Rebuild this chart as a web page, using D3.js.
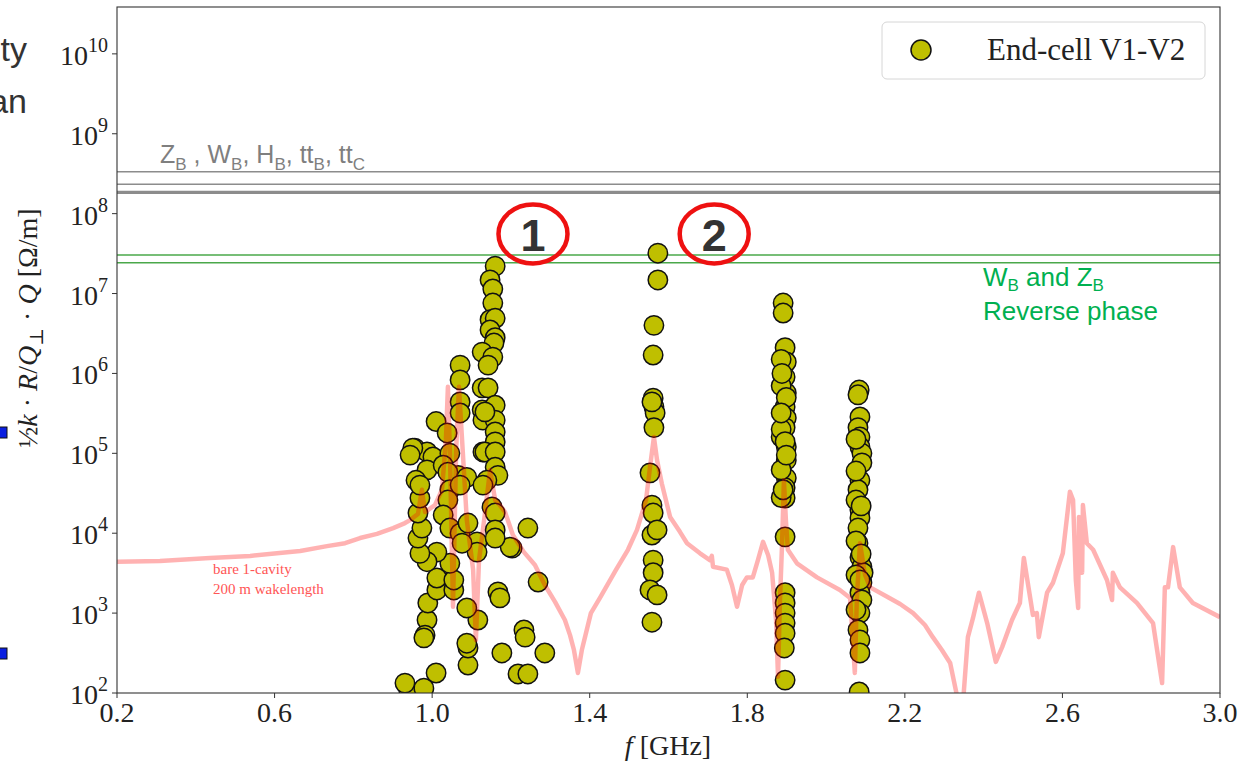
<!DOCTYPE html>
<html>
<head>
<meta charset="utf-8">
<script src="https://cdn.jsdelivr.net/npm/d3@7"></script>
<style>
  body { margin: 0; background: #fff; }
  svg { display: block; }
</style>
</head>
<body>
<div id="chart"></div>
<script>
// end-cell V1-V2 impedance points, grouped by mode band [f GHz, value Ohm/m]
const band1 = [
  [1.160,2.2e7],[1.147,1.48e7],[1.154,1.14e7],[1.154,7.6e6],[1.147,4.7e6],[1.160,4.9e6],[1.147,3.5e6],[1.160,2.8e6],
  [1.157,2.4e6],[1.127,1.85e6],[1.154,1.6e6],[1.142,1.27e6],[1.071,1.27e6],[1.071,8.3e5],[1.071,4.4e5],[1.071,3.2e5],
  [1.127,6.6e5],[1.142,6.6e5],[1.127,3.5e5],[1.129,2.6e5],[1.160,4.0e5],[1.160,2.6e5],[1.160,1.85e5],[1.160,1.39e5],
  [1.129,1.04e5],[1.010,2.5e5],[1.038,1.8e5],[0.956,1.16e5],[0.987,1.04e5],[1.002,9.0e4],[1.045,1.0e5],[0.987,6.2e4],
  [0.959,4.6e4],[1.028,7.1e4],[1.066,5.3e4],[1.088,5.0e4],[0.951,1.16e5],[0.944,9.5e4],[0.941,108],
  [0.931,133],[0.979,115],[1.010,178],[1.091,224],[1.091,366],[1.088,420],[1.177,317],[1.218,173],[1.243,173],
  [1.286,317],[1.233,615],[1.236,500],[1.167,1.84e3],[1.172,1.55e3],[1.269,2.45e3],[1.243,1.16e4],[1.203,6.5e3],
  [1.116,820],[1.088,1.16e3],[0.987,820],[0.982,530],[0.979,490],[0.989,1.34e3],[1.012,1.95e3],[1.012,2.75e3],
  [1.055,1.95e3],[1.055,2.6e3],[1.045,4.2e3],[1.012,5.8e3],[0.987,4.4e3],[0.969,5.6e3],[0.964,8.7e3],[0.974,1.16e4],
  [0.964,1.79e4],[0.969,2.76e4],[0.969,4.0e4],[1.040,5.8e4],[1.045,3.5e4],[1.071,4.0e4],[1.040,2.6e4],[1.028,1.69e4],
  [1.045,1.16e4],[1.071,1.0e4],[1.091,1.34e4],[1.114,7.8e3],[1.114,5.8e3],[1.076,7.5e3],[1.134,3.3e5],[1.134,1.04e5],
  [1.160,1.04e5],[1.160,6.7e4],[1.167,5.3e4],[1.139,4.6e4],[1.129,4.0e4],[1.152,2.13e4],[1.160,1.79e4],[1.160,1.1e4],
  [1.198,6.7e3],[1.160,8.7e3]
];
const band2 = [
  [1.573,3.2e7],[1.573,1.48e7],[1.563,4.0e6],[1.561,1.7e6],[1.561,4.9e5],[1.563,3.8e5],[1.566,3.2e5],[1.563,2.1e5],
  [1.558,4.4e5],[1.553,5.7e4],[1.558,2.25e4],[1.561,1.79e4],[1.558,9.5e3],[1.571,1.1e4],[1.561,4.6e3],[1.561,3.2e3],
  [1.553,1.95e3],[1.571,1.69e3],[1.558,770]
];
const band3 = [
  [1.891,7.6e6],[1.891,5.7e6],[1.896,2.1e6],[1.899,1.39e6],[1.896,9.0e5],[1.899,5.7e5],[1.896,3.8e5],[1.899,2.77e5],
  [1.896,2.1e5],[1.899,1.2e5],[1.899,8.2e4],[1.899,4.9e4],[1.896,3.7e4],[1.896,2.76e4],[1.896,9.0e3],[1.896,1.8e3],
  [1.896,1.34e3],[1.896,1.0e3],[1.896,750],[1.896,560],[1.894,366],[1.896,145],[1.886,7e5],[1.886,1.6e5],[1.886,6.2e4],
  [1.886,2.8e4],[1.886,2.0e5],[1.886,1.5e6],[1.899,5.0e5],[1.896,1.4e5],[1.899,9.5e4],[1.891,3.5e4],[1.888,1.0e6],[1.886,3.2e5]
];
const band4 = [
  [2.084,6.2e5],[2.081,5.4e5],[2.086,2.85e5],[2.081,2.1e5],[2.086,1.6e5],[2.086,1.2e5],[2.091,1.0e5],[2.091,7.6e4],
  [2.086,4.6e4],[2.081,3.5e4],[2.086,1.95e4],[2.086,1.55e4],[2.081,1.16e4],[2.081,7.5e3],[2.086,5.0e3],[2.091,3.8e3],
  [2.094,3.2e3],[2.091,2.4e3],[2.086,1.8e3],[2.091,1.46e3],[2.086,1.0e3],[2.081,615],[2.086,460],[2.086,317],[2.084,103],
  [2.076,2.6e4],[2.076,8e3],[2.076,3e3],[2.076,1.1e3],[2.076,1.5e5],[2.076,6e4],[2.089,2.2e4],[2.089,5.5e3],[2.086,2.6e3]
];

// bare 1-cavity, 200 m wakelength
const bareCavity = [
  [0.2,4.4e3],[0.309,4.5e3],[0.436,4.9e3],[0.538,5.2e3],[0.606,5.6e3],[0.665,6.0e3],[0.733,6.9e3],[0.779,7.5e3],
  [0.817,8.7e3],[0.860,9.8e3],[0.901,1.16e4],[0.931,1.34e4],[0.944,1.46e4],[0.964,1.74e4],
  [0.974,3.5e4],[0.982,1.84e4],[1.007,2.25e4],[1.025,3.5e4],[1.035,1.47e5],[1.040,6.8e5],[1.045,1.1e5],[1.053,1.2e3],
  [1.061,1.1e5],[1.068,6.8e5],[1.076,1.47e5],[1.088,1.46e4],[1.104,3.5e3],[1.111,460],[1.119,4.6e3],[1.132,1.46e4],
  [1.147,6.2e4],[1.160,2.6e4],[1.172,2.25e4],[1.185,1.84e4],[1.205,9.5e3],[1.233,5.8e3],[1.261,4.0e3],[1.286,2.25e3],
  [1.312,1.38e3],[1.337,820],[1.350,530],
  [1.360,345],[1.370,178],[1.380,345],[1.403,1.0e3],[1.426,1.55e3],[1.467,3.5e3],[1.497,6.2e3],[1.520,1.1e4],
  [1.543,2.6e4],[1.553,6.7e4],
  [1.563,1.6e5],[1.571,8.2e4],[1.583,4.2e4],[1.604,1.6e4],[1.629,1.04e4],[1.647,7.5e3],[1.680,5.6e3],[1.705,4.6e3],
  [1.710,5.2e3],[1.713,3.8e3],
  [1.748,3.5e3],[1.761,2.25e3],[1.774,1.2e3],[1.787,2.25e3],[1.799,2.8e3],[1.814,2.8e3],[1.827,4.6e3],[1.840,7.8e3],
  [1.853,5.3e3],[1.863,3.2e3],[1.873,820],[1.878,160],[1.883,1.46e3],[1.888,6.7e3],[1.893,4.6e4],[1.898,1.46e4],
  [1.903,6.2e3],[1.926,4.2e3],[1.977,2.8e3],[2.035,1.95e3],[2.061,1.55e3],[2.073,178],[2.078,1.46e3],[2.086,7.5e3],
  [2.099,3.0e3],[2.112,2.1e3],[2.155,1.6e3],[2.188,1.3e3],[2.221,1.0e3],[2.251,710],[2.271,500],[2.294,345],
  [2.315,237],[2.335,80],[2.348,80],[2.360,500],
  [2.373,870],[2.388,1.8e3],[2.409,750],[2.431,245],[2.447,375],[2.472,820],[2.492,1.34e3],[2.502,4.9e3],[2.525,950],
  [2.535,1.0e3],[2.540,500],[2.561,1.8e3],[2.576,2.4e3],[2.601,5.6e3],[2.619,3.3e4],[2.627,2.6e4],[2.634,2.6e3],
  [2.640,1.16e3],[2.642,1.6e4],[2.650,3.2e3],[2.652,2.25e4],[2.662,7.5e3],[2.678,6.2e3],[2.713,2.6e3],[2.726,1.46e3],
  [2.728,3.2e3],[2.746,2.1e3],[2.789,1.34e3],[2.830,750],[2.853,133],[2.860,2.1e3],[2.868,2.1e3],[2.881,6.7e3],
  [2.898,2.1e3],[2.931,1.34e3],[3.0,890]
];

const grayLimits = [3.35e8, 2.33e8, 1.9e8, 1.85e8, 1.8e8];   // Z_B, W_B, H_B, tt_B, tt_C
const greenLimits = [3.03e7, 2.43e7];                        // W_B and Z_B reverse phase
const xTicks = [0.2, 0.6, 1.0, 1.4, 1.8, 2.2, 2.6, 3.0];
const yExps = [2, 3, 4, 5, 6, 7, 8, 9, 10];
const circled = [{label: "1", f: 1.256}, {label: "2", f: 1.716}];

const W = 1251, H = 764;
const pLeft = 117, pRight = 1220, pTop = 7, pBottom = 693;
const serif = "'Liberation Serif', 'DejaVu Serif', serif";
const sans = "Arial, 'Liberation Sans', sans-serif";

const svg = d3.select("#chart").append("svg").attr("width", W).attr("height", H);

const x = d3.scaleLinear().domain([0.2, 3.0]).range([pLeft, pRight]);
const y = d3.scaleLog().domain([1e2, 3.86e10]).range([pBottom, pTop]);

svg.append("clipPath").attr("id", "plotclip")
  .append("rect").attr("x", pLeft).attr("y", pTop).attr("width", pRight - pLeft).attr("height", pBottom - pTop);

// leftover bits of the slide behind the plot
svg.append("text").attr("x", 27).attr("y", 61).attr("text-anchor", "end")
  .style("font-family", sans).style("font-size", "34px").attr("fill", "#333").text("ty");
svg.append("text").attr("x", 27).attr("y", 113).attr("text-anchor", "end")
  .style("font-family", sans).style("font-size", "34px").attr("fill", "#333").text("an");
[427, 648].forEach(function(yy) {
  svg.append("rect").attr("x", -3).attr("y", yy).attr("width", 10).attr("height", 11)
    .attr("fill", "#0a1fe0").attr("stroke", "#111").attr("stroke-width", 1);
});

const plot = svg.append("g").attr("clip-path", "url(#plotclip)");

plot.selectAll(".glim").data(grayLimits).enter().append("line")
  .attr("x1", pLeft).attr("x2", pRight)
  .attr("y1", d => y(d)).attr("y2", d => y(d))
  .attr("stroke", "#8c8c8c").attr("stroke-width", 1.4);

plot.selectAll(".grlim").data(greenLimits).enter().append("line")
  .attr("x1", pLeft).attr("x2", pRight)
  .attr("y1", d => y(d)).attr("y2", d => y(d))
  .attr("stroke", "#4aa84a").attr("stroke-width", 1.5);

const points = band1.concat(band2, band3, band4);
plot.selectAll(".pt").data(points).enter().append("circle")
  .attr("cx", d => x(d[0]))
  .attr("cy", d => y(d[1]))
  .attr("r", 9.7)
  .attr("fill", "#bfbf00")
  .attr("stroke", "#111")
  .attr("stroke-width", 1.5);

const line = d3.line().x(d => x(d[0])).y(d => y(d[1]));
plot.append("path").datum(bareCavity)
  .attr("d", line)
  .attr("fill", "none")
  .attr("stroke", "rgba(255,0,0,0.3)")
  .attr("stroke-width", 4.5)
  .attr("stroke-linejoin", "round");

// frame
svg.append("rect").attr("x", pLeft).attr("y", pTop).attr("width", pRight - pLeft).attr("height", pBottom - pTop)
  .attr("fill", "none").attr("stroke", "#333").attr("stroke-width", 1.1);

// x ticks
const xt = svg.append("g");
xt.selectAll("line").data(xTicks).enter().append("line")
  .attr("x1", d => x(d)).attr("x2", d => x(d))
  .attr("y1", pBottom).attr("y2", pBottom + 5)
  .attr("stroke", "#333").attr("stroke-width", 1);
xt.selectAll("text").data(xTicks).enter().append("text")
  .attr("x", d => x(d)).attr("y", pBottom + 29)
  .attr("text-anchor", "middle")
  .style("font-family", serif).style("font-size", "28px").attr("fill", "#222")
  .text(d => d.toFixed(1));

// y ticks
const yt = svg.append("g");
yt.selectAll("line").data(yExps).enter().append("line")
  .attr("x1", pLeft - 5).attr("x2", pLeft)
  .attr("y1", d => y(Math.pow(10, d))).attr("y2", d => y(Math.pow(10, d)))
  .attr("stroke", "#333").attr("stroke-width", 1);
const ylab = yt.selectAll("text").data(yExps).enter().append("text")
  .attr("x", 108).attr("y", d => y(Math.pow(10, d)) + 11)
  .attr("text-anchor", "end")
  .style("font-family", serif).attr("fill", "#222");
ylab.append("tspan").style("font-size", "28px").text("10");
ylab.append("tspan").style("font-size", "20px").attr("dy", -13).text(d => d);

// axis titles
const xtitle = svg.append("text").attr("x", 668).attr("y", 755).attr("text-anchor", "middle")
  .style("font-family", serif).style("font-size", "28px").attr("fill", "#222");
xtitle.append("tspan").style("font-style", "italic").text("f");
xtitle.append("tspan").text(" [GHz]");

const ytitle = svg.append("text")
  .attr("transform", "translate(37,328) rotate(-90)")
  .attr("text-anchor", "middle")
  .style("font-family", serif).style("font-size", "28px").attr("fill", "#222");
ytitle.append("tspan").text("½");
ytitle.append("tspan").style("font-style", "italic").text("k");
ytitle.append("tspan").text(" · ");
ytitle.append("tspan").style("font-style", "italic").text("R");
ytitle.append("tspan").text("/");
ytitle.append("tspan").style("font-style", "italic").text("Q");
ytitle.append("tspan").style("font-size", "19px").attr("dy", 6).text("⊥");
ytitle.append("tspan").attr("dy", -6).text(" · ");
ytitle.append("tspan").style("font-style", "italic").text("Q");
ytitle.append("tspan").text(" [Ω/m]");

// annotations
const gtxt = svg.append("text").attr("x", 160).attr("y", 163)
  .style("font-family", sans).style("font-size", "25px").attr("fill", "#7f7f7f");
[["Z", "B", " , "], ["W", "B", ", "], ["H", "B", ", "], ["tt", "B", ", "], ["tt", "C", ""]].forEach(function(p) {
  gtxt.append("tspan").text(p[0]);
  gtxt.append("tspan").style("font-size", "17px").attr("dy", 7).text(p[1]);
  gtxt.append("tspan").attr("dy", -7).text(p[2]);
});

const grn = svg.append("text").attr("x", 983).attr("y", 286)
  .style("font-family", sans).style("font-size", "26px").attr("fill", "#00b050");
grn.append("tspan").text("W");
grn.append("tspan").style("font-size", "17px").attr("dy", 5).text("B");
grn.append("tspan").attr("dy", -5).text(" and Z");
grn.append("tspan").style("font-size", "17px").attr("dy", 5).text("B");
svg.append("text").attr("x", 983).attr("y", 320)
  .style("font-family", sans).style("font-size", "26px").attr("fill", "#00b050").text("Reverse phase");

svg.append("text").attr("x", 213).attr("y", 574)
  .style("font-family", serif).style("font-size", "15px").attr("fill", "#ff5555").text("bare 1-cavity");
svg.append("text").attr("x", 213).attr("y", 594)
  .style("font-family", serif).style("font-size", "15px").attr("fill", "#ff5555").text("200 m wakelength");

// circled numbers
const marks = svg.selectAll(".mark").data(circled).enter().append("g")
  .attr("transform", d => "translate(" + x(d.f) + ",234)");
marks.append("ellipse").attr("rx", 34.5).attr("ry", 29.5)
  .attr("fill", "none").attr("stroke", "#ee1111").attr("stroke-width", 4.5);
marks.append("text").attr("y", 17).attr("text-anchor", "middle")
  .style("font-family", sans).style("font-weight", "bold").style("font-size", "45px")
  .attr("fill", "#333").text(d => d.label);

// legend
const lg = svg.append("g");
lg.append("rect").attr("x", 882).attr("y", 22).attr("width", 323).attr("height", 57).attr("rx", 5)
  .attr("fill", "#fff").attr("stroke", "#d6d6d6").attr("stroke-width", 1);
lg.append("circle").attr("cx", 921).attr("cy", 50).attr("r", 10)
  .attr("fill", "#bfbf00").attr("stroke", "#111").attr("stroke-width", 1.5);
lg.append("text").attr("x", 987).attr("y", 60)
  .style("font-family", serif).style("font-size", "31px").attr("fill", "#222").text("End-cell V1-V2");
</script>
</body>
</html>
